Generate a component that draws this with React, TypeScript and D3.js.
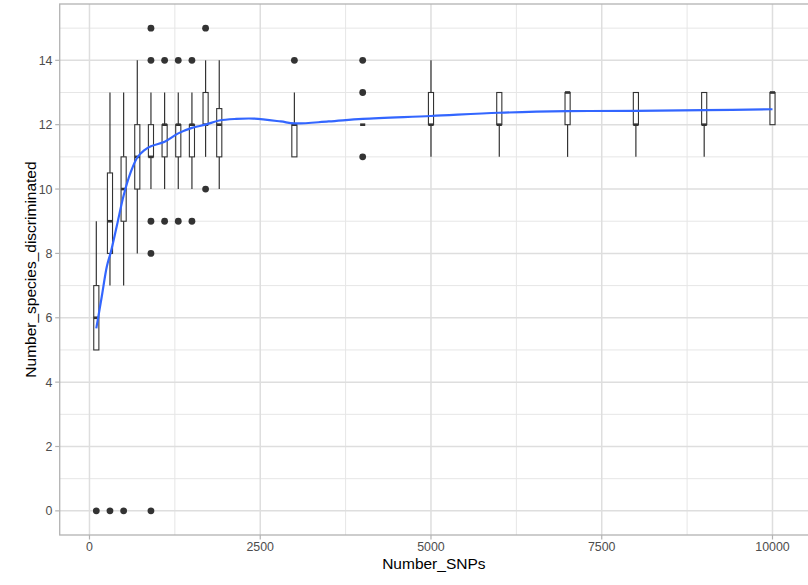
import React from "react";
import * as d3 from "d3";

// ---- data ----
const snpGroups = [100, 300, 500, 700, 900, 1100, 1300, 1500, 1700, 1900, 3000, 4000, 5000, 6000, 7000, 8000, 9000, 10000];
const whiskerLow = [5, 7, 7, 8, 10, 10, 10, 10, 11, 10, 11, 12, 11, 11, 11, 11, 11, 12];
const quart1 = [5, 8, 9, 10, 11, 11, 11, 11, 12, 11, 11, 12, 12, 12, 12, 12, 12, 12];
const medians = [6, 9, 10, 11, 11, 12, 12, 12, 12, 12, 12, 12, 12, 12, 13, 12, 12, 13];
const quart3 = [7, 10.5, 11, 12, 12, 12, 12, 12, 13, 12.5, 12, 12, 13, 13, 13, 13, 13, 13];
const whiskerHigh = [9, 13, 13, 14, 13, 13, 13, 13, 14, 14, 13, 12, 14, 13, 13, 13, 13, 13];

const outlierX = [100, 300, 500, 900, 900, 900, 900, 900, 1100, 1100, 1300, 1300, 1500, 1500, 1700, 1700, 3000, 4000, 4000, 4000];
const outlierY = [0, 0, 0, 15, 14, 9, 8, 0, 14, 9, 14, 9, 14, 9, 15, 10, 14, 14, 13, 11];

const smoothX = [100, 180, 255, 315, 400, 500, 600, 700, 800, 900, 1100, 1300, 1500, 1700, 1900, 2150, 2400, 2800, 3000, 3500, 4000, 5000, 6000, 7000, 8000, 9000, 10000];
const smoothY = [5.67, 6.66, 7.6, 8.06, 8.85, 9.8, 10.5, 10.98, 11.2, 11.33, 11.47, 11.73, 11.9, 12.0, 12.13, 12.18, 12.19, 12.1, 12.04, 12.1, 12.18, 12.27, 12.37, 12.42, 12.43, 12.45, 12.48];

const xMajor = [0, 2500, 5000, 7500, 10000];
const xMinor = [1250, 3750, 6250, 8750];
const yMajor = [0, 2, 4, 6, 8, 10, 12, 14];
const yMinor = [1, 3, 5, 7, 9, 11, 13, 15];

const xTitle = "Number_SNPs";
const yTitle = "Number_species_discriminated";

const boxWidthUnits = 75;

export default function App() {
  const W = 808, H = 585;
  const left = 59.7, right = 809.1, top = 4, bottom = 535;
  const x = d3.scaleLinear().domain([-436, 10536]).range([left, right]);
  const y = d3.scaleLinear().domain([-0.75, 15.75]).range([bottom, top]);
  const bw = x(boxWidthUnits) - x(0);
  const font = "'Liberation Sans', Arial, Helvetica, sans-serif";
  const boxStroke = "#333333";

  const line = d3
    .line<number>()
    .x((_, i) => x(smoothX[i]))
    .y((d) => y(d))
    .curve(d3.curveCatmullRom.alpha(0.5));

  return (
    <svg
      width={W}
      height={H}
      style={{ position: "absolute", left: 0, top: 0, background: "#fff" }}
      fontFamily={font}
    >
      <rect x={0} y={0} width={W} height={H} fill="#fff" />
      {/* minor grid */}
      {xMinor.map((v) => (
        <line key={"xm" + v} x1={x(v)} x2={x(v)} y1={top} y2={bottom} stroke="#e6e6e6" strokeWidth={1} />
      ))}
      {yMinor.map((v) => (
        <line key={"ym" + v} x1={left} x2={right} y1={y(v)} y2={y(v)} stroke="#e6e6e6" strokeWidth={1} />
      ))}
      {/* major grid */}
      {xMajor.map((v) => (
        <line key={"xM" + v} x1={x(v)} x2={x(v)} y1={top} y2={bottom} stroke="#dedede" strokeWidth={1.5} />
      ))}
      {yMajor.map((v) => (
        <line key={"yM" + v} x1={left} x2={right} y1={y(v)} y2={y(v)} stroke="#dedede" strokeWidth={1.5} />
      ))}

      {/* boxplots */}
      {snpGroups.map((g, i) => {
        const cx = x(g);
        return (
          <g key={"b" + g}>
            <line x1={cx} x2={cx} y1={y(quart3[i])} y2={y(whiskerHigh[i])} stroke={boxStroke} strokeWidth={1.2} />
            <line x1={cx} x2={cx} y1={y(quart1[i])} y2={y(whiskerLow[i])} stroke={boxStroke} strokeWidth={1.2} />
            <rect
              x={cx - bw / 2}
              y={y(quart3[i])}
              width={bw}
              height={Math.max(0, y(quart1[i]) - y(quart3[i]))}
              fill="#fff"
              stroke={boxStroke}
              strokeWidth={1.1}
            />
            <line
              x1={cx - bw / 2}
              x2={cx + bw / 2}
              y1={y(medians[i])}
              y2={y(medians[i])}
              stroke={boxStroke}
              strokeWidth={2.6}
            />
          </g>
        );
      })}

      {/* outliers */}
      {outlierX.map((v, i) => (
        <circle key={"o" + i} cx={x(v)} cy={y(outlierY[i])} r={3.4} fill="#333333" />
      ))}

      {/* smooth */}
      <path d={line(smoothY) || ""} fill="none" stroke="#3366FF" strokeWidth={2.2} />

      {/* panel border */}
      <rect x={left} y={top} width={right - left} height={bottom - top} fill="none" stroke="#b3b3b3" strokeWidth={1.3} />

      {/* x axis */}
      {xMajor.map((v) => (
        <g key={"xt" + v}>
          <line x1={x(v)} x2={x(v)} y1={bottom} y2={bottom + 4.5} stroke="#b3b3b3" strokeWidth={1.2} />
          <text x={x(v)} y={551} textAnchor="middle" fontSize={12.4} fill="#4d4d4d">
            {v}
          </text>
        </g>
      ))}
      {/* y axis */}
      {yMajor.map((v) => (
        <g key={"yt" + v}>
          <line x1={left - 4.5} x2={left} y1={y(v)} y2={y(v)} stroke="#b3b3b3" strokeWidth={1.2} />
          <text x={52.5} y={y(v)} dy="0.36em" textAnchor="end" fontSize={12.4} fill="#4d4d4d">
            {v}
          </text>
        </g>
      ))}

      <text x={(left + 808) / 2} y={569} textAnchor="middle" fontSize={15.5} fill="#000">
        {xTitle}
      </text>
      <text
        transform={`translate(30.5, ${(top + bottom) / 2}) rotate(-90)`}
        textAnchor="middle"
        dy="0.36em"
        fontSize={15.5}
        fill="#000"
      >
        {yTitle}
      </text>
    </svg>
  );
}
